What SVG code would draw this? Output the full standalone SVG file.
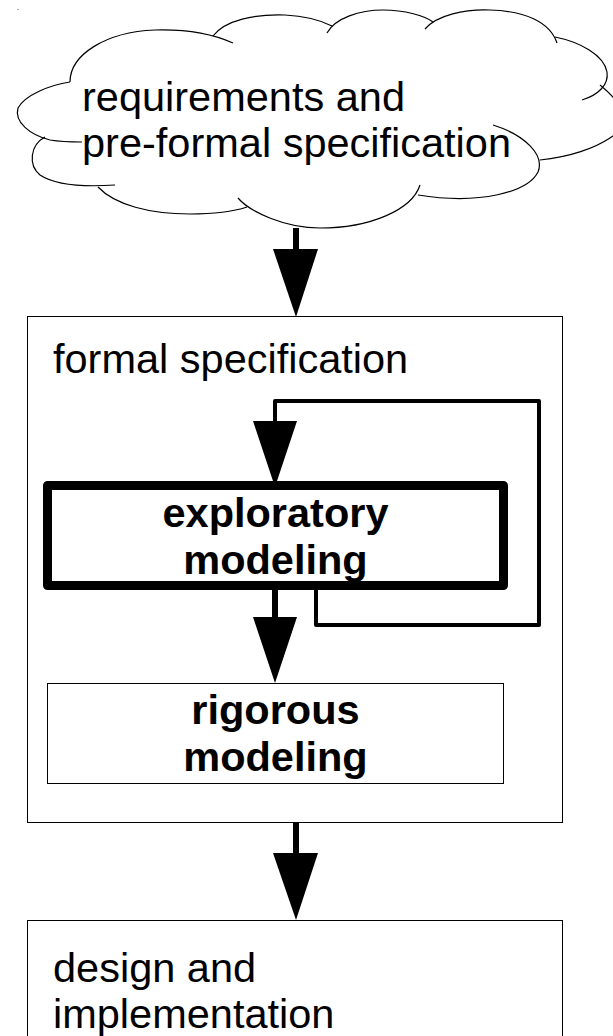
<svg xmlns="http://www.w3.org/2000/svg" width="613" height="1036" viewBox="0 0 613 1036">
  <defs>
    <style>
      .lobe { fill: none; stroke: #000; stroke-width: 1.2; }
      .box { fill: #fff; stroke: #000; stroke-width: 1; }
      .thick { fill: #fff; stroke: #000; stroke-width: 9; stroke-linejoin: round; }
      .lbl { font-family: "Liberation Sans", Arial, sans-serif; font-size: 41.5px; fill: #000; }
      .bold { font-weight: bold; text-anchor: middle; }
      .shaft { fill: none; stroke: #000; stroke-width: 6; }
      .loop { fill: none; stroke: #000; stroke-width: 4; stroke-linejoin: round; }
      .head { fill: #000; }
    </style>
  </defs>
  <rect width="613" height="1036" fill="#fff"/>

  <!-- cloud: requirements -->
  <g id="requirements">
    <circle cx="18" cy="9.5" r="0.6" fill="#555"/>
    <path class="lobe" d="M70,82 C70,55 105,32 155,30 C190,29 215,35 233,43"/>
    <path class="lobe" d="M213,36 C225,20 255,14 285,15 C305,16 320,20 332,26"/>
    <path class="lobe" d="M327,33 C335,18 360,10 383,10 C405,10 425,16 433,22"/>
    <path class="lobe" d="M425,29 C437,15 465,9 490,10 C525,11 550,22 557,43"/>
    <path class="lobe" d="M555,37 C580,42 604,55 607,72 C609,85 598,95 582,100"/>
    <path class="lobe" d="M600,85 C625,105 632,125 610,138 C595,148 570,157 540,160"/>
    <path class="lobe" d="M493,125 C525,135 545,155 538,172 C528,192 480,205 418,195"/>
    <path class="lobe" d="M420,185 C412,210 370,228 320,228 C285,228 250,212 238,198"/>
    <path class="lobe" d="M247,207 C235,211 215,214 190,214 C150,214 115,205 98,187"/>
    <path class="lobe" d="M45,137 C30,145 28,165 40,175 C55,185 85,187 115,185"/>
    <path class="lobe" d="M70,82 C50,85 25,95 18,108 C14,122 30,135 50,140 C62,142 72,142 82,142"/>
    <text class="lbl" x="82" y="111">requirements and</text>
    <text class="lbl" x="82" y="157">pre-formal specification</text>
  </g>

  <!-- formal specification container -->
  <g id="formal-specification">
    <rect class="box" x="27.5" y="316.5" width="535" height="506"/>
    <text class="lbl" x="53" y="373">formal specification</text>
  </g>

  <!-- exploratory modeling -->
  <g id="exploratory-modeling">
    <rect class="thick" x="47.5" y="485.5" width="456" height="100"/>
    <text class="lbl bold" x="275.5" y="527">exploratory</text>
    <text class="lbl bold" x="275.5" y="574">modeling</text>
  </g>

  <!-- rigorous modeling -->
  <g id="rigorous-modeling">
    <rect class="box" x="47.5" y="683.5" width="456" height="100" stroke="#333"/>
    <text class="lbl bold" x="275.5" y="724">rigorous</text>
    <text class="lbl bold" x="275.5" y="771">modeling</text>
  </g>

  <!-- design and implementation -->
  <g id="design-implementation">
    <rect class="box" x="27.5" y="920.5" width="535" height="130"/>
    <text class="lbl" x="53" y="982">design and</text>
    <text class="lbl" x="53" y="1028">implementation</text>
  </g>

  <!-- connectors -->
  <g id="connectors">
    <!-- cloud to formal specification -->
    <line class="shaft" x1="296" y1="228" x2="296" y2="252"/>
    <polygon class="head" points="273,249 318,249 296,317"/>
    <!-- feedback loop into exploratory modeling -->
    <path class="loop" d="M316,590 V625 H539 V401 H275 V424"/>
    <polygon class="head" points="253,421 297,421 275,487"/>
    <!-- exploratory to rigorous -->
    <line class="shaft" x1="275" y1="590" x2="275" y2="620"/>
    <polygon class="head" points="253,617 297,617 275,683"/>
    <!-- formal specification to design -->
    <line class="shaft" x1="296" y1="823" x2="296" y2="856"/>
    <polygon class="head" points="273,853 318,853 296,920"/>
  </g>
</svg>
